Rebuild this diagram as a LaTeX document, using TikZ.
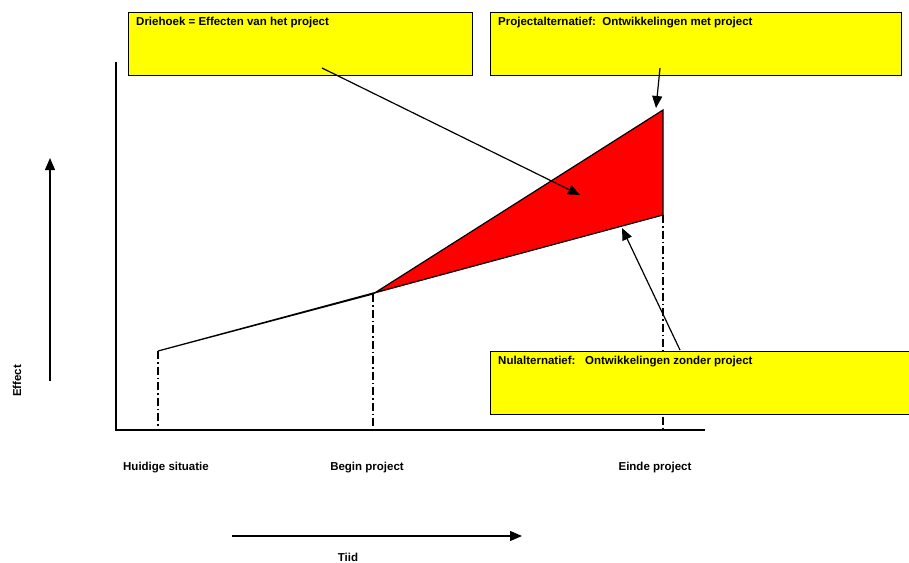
\documentclass[tikz,border=0pt]{standalone}
\usepackage{fontspec}
\setmainfont{Liberation Sans}
\usetikzlibrary{calc,arrows.meta,positioning}
\definecolor{noteYellow}{HTML}{FFFF00}
\definecolor{effectRed}{HTML}{FF0000}

\begin{document}
\begin{tikzpicture}[x=1pt, y=-1pt,
        axis/.style={draw=black, line width=1.3pt},
        guide/.style={draw=black, line width=1.1pt, dash pattern=on 8pt off 3pt on 1.5pt off 3pt},
        trend/.style={draw=black, line width=1.2pt},
        note/.style={draw=black, line width=1.3pt, fill=noteYellow, minimum height=63pt, inner sep=0pt},
        notetext/.style={font=\bfseries\fontsize{11.5}{13}\selectfont, anchor=north west, inner sep=0pt},
        lbl/.style={font=\bfseries\fontsize{11.5}{13}\selectfont},
        arr/.style={-{Triangle[length=12pt, width=10pt]}, line width=1.2pt, draw=black}
    ]
        \useasboundingbox (0,0) rectangle (909,562);

        % axes
        \coordinate (origin) at (116,430);
        \coordinate (ytop) at (116,62);
        \coordinate (xend) at (705,430);
        \draw[axis] (ytop) -- (origin) -- (xend);

        % development points
        \coordinate (now) at (158,351);
        \coordinate (start) at (373,294);
        \coordinate (endhi) at (663,110);
        \coordinate (endlo) at (663,215);

        \fill[effectRed] (start) -- (endhi) -- (endlo) -- cycle;
        \draw[trend] (now) -- (start) -- (endhi) -- (endlo) -- cycle;

        \draw[guide] (now) -- (now |- origin);
        \draw[guide] (start) -- (start |- origin);
        \draw[guide] (endlo) -- (endlo |- origin);

        % notes
        \node[note, minimum width=344pt, anchor=north west] (driebox) at (128,12) {};
        \node[notetext] (drietxt) at ([shift={(8pt,-5pt)}]driebox.north west) {Driehoek = Effecten van het project};

        \node[note, minimum width=411pt, anchor=north west] (projbox) at (490,12) {};
        \node[notetext] (projtxt) at ([shift={(8pt,-5pt)}]projbox.north west) {Projectalternatief:\ \ Ontwikkelingen met project};

        \node[note, minimum width=430pt, anchor=north west] (nulbox) at (490,351) {};
        \node[notetext] (nultxt) at ([shift={(8pt,-5pt)}]nulbox.north west) {Nulalternatief:\ \ \ Ontwikkelingen zonder project};

        % pointers
        \coordinate (drietail) at (322,68);
        \coordinate (drietip) at (580,195);
        \coordinate (projtail) at (660,68);
        \coordinate (projtip) at (656,108);
        \coordinate (nultail) at (680,350);
        \coordinate (nultip) at (622,228);
        \draw[arr] (drietail) -- (drietip);
        \draw[arr] (projtail) -- (projtip);
        \draw[arr] (nultail) -- (nultip);

        % axis captions
        \node[lbl] (huidig) at (166,468) {Huidige situatie};
        \node[lbl] (begin) at (367,468) {Begin project};
        \node[lbl] (einde) at (655,468) {Einde project};

        \coordinate (efrom) at (50,381);
        \coordinate (eto) at (50,158);
        \draw[arr] (efrom) -- (eto);
        \node[lbl, rotate=90] (effect) at (17,381) {Effect};

        \coordinate (tfrom) at (232,536);
        \coordinate (tto) at (522,536);
        \draw[arr] (tfrom) -- (tto);
        \node[lbl] (tijd) at (348,557) {Tiid};
\end{tikzpicture}
\end{document}
